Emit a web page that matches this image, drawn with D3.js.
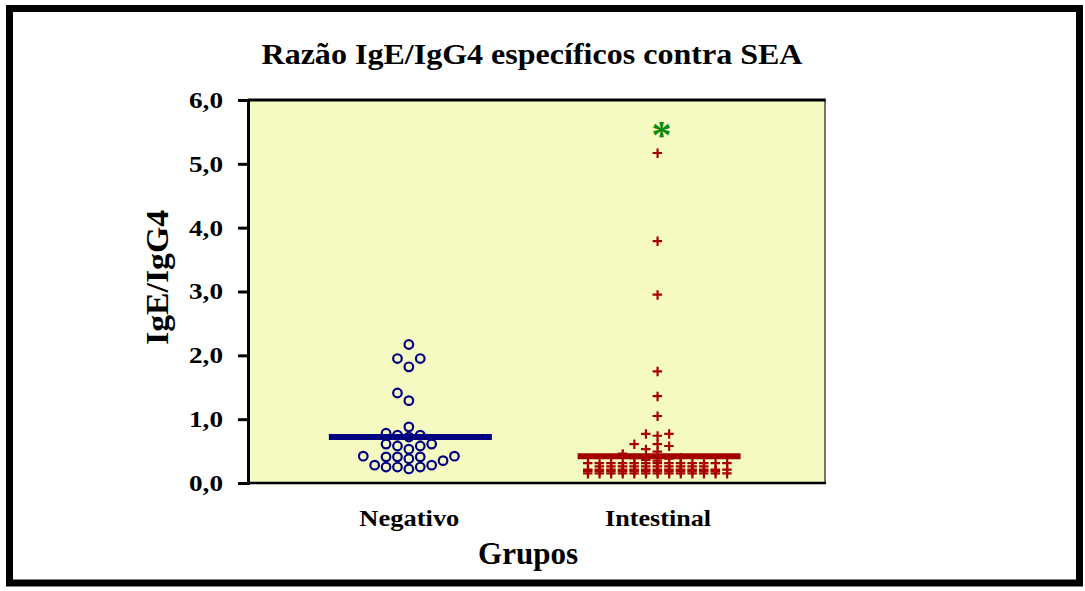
<!DOCTYPE html>
<html>
<head>
<meta charset="utf-8">
<script src="https://cdn.jsdelivr.net/npm/d3@7"></script>
<style>
  html, body { margin: 0; padding: 0; background: #ffffff; }
  svg { display: block; }
  text { font-family: "Liberation Serif", "Times New Roman", serif; font-weight: bold; }
</style>
</head>
<body>
<div id="chart"></div>
<script>
// ---------------- data ----------------
const groups = ["Negativo", "Intestinal"];
const negativoValues = [
  2.17, 1.95, 1.95, 1.82, 1.41, 1.29, 0.88, 0.75, 0.72, 0.78, 0.75,
  0.61, 0.58, 0.58, 0.61, 0.53, 0.42, 0.41, 0.41, 0.41, 0.42,
  0.35, 0.38, 0.28, 0.25, 0.22, 0.25, 0.25, 0.28
];
const intestinalValues = [
  5.17, 3.79, 2.95, 1.75, 1.36, 1.05, 0.77, 0.74, 0.77, 0.61, 0.53, 0.58, 0.61, 0.49, 0.46,
  0.40, 0.39, 0.38, 0.36, 0.35,
  0.31, 0.31, 0.31, 0.31, 0.31, 0.31, 0.31, 0.31, 0.31, 0.31, 0.31, 0.31, 0.31,
  0.26, 0.26, 0.26, 0.26, 0.26, 0.26, 0.26, 0.26, 0.26, 0.26,
  0.21, 0.21, 0.21, 0.21, 0.21, 0.21, 0.21, 0.21, 0.21, 0.21, 0.21, 0.21, 0.21,
  0.19, 0.19, 0.19, 0.19, 0.19, 0.19, 0.19, 0.19, 0.19, 0.19, 0.19, 0.19,
  0.15, 0.15, 0.15, 0.15, 0.15, 0.15, 0.15, 0.15, 0.15, 0.15, 0.15, 0.15, 0.15
];
const groupMeans = [0.72, 0.42];
const yTicks = [0, 1, 2, 3, 4, 5, 6];
const starGroup = "Intestinal";
const starValue = 5.55;
const titleText = "Razão IgE/IgG4 específicos contra SEA";
const yTitle = "IgE/IgG4";
const xTitle = "Grupos";

// ---------------- layout ----------------
const W = 1085, H = 591;
const plot = { left: 248, right: 825, top: 100, bottom: 483 };
const serif = '"Liberation Serif", "Times New Roman", serif';

const svg = d3.select("#chart").append("svg").attr("width", W).attr("height", H);

// outer frame
svg.append("rect")
  .attr("x", 9.5).attr("y", 8.5)
  .attr("width", 1070).attr("height", 574.5)
  .attr("fill", "#ffffff").attr("stroke", "#000").attr("stroke-width", 7);

const y = d3.scaleLinear().domain([0, 6]).range([plot.bottom, plot.top]);
const x = d3.scalePoint().domain(groups).range([plot.left, plot.right]).padding(0.66).align(0.49);

// plot background
svg.append("rect")
  .attr("x", plot.left).attr("y", plot.top)
  .attr("width", plot.right - plot.left).attr("height", plot.bottom - plot.top)
  .attr("fill", "#f4fac1");

// right border (thin)
svg.append("line")
  .attr("x1", plot.right).attr("x2", plot.right)
  .attr("y1", plot.top).attr("y2", plot.bottom)
  .attr("stroke", "#4a4a3a").attr("stroke-width", 1.5);

// top border
svg.append("line")
  .attr("x1", plot.left).attr("x2", plot.right + 0.75)
  .attr("y1", plot.top).attr("y2", plot.top)
  .attr("stroke", "#000").attr("stroke-width", 3);

// y axis
const yAxis = d3.axisLeft(y).tickValues(yTicks).tickSize(10).tickPadding(15)
  .tickFormat(d => d3.format(".1f")(d).replace(".", ","));
const gy = svg.append("g").attr("transform", `translate(${plot.left},0)`).call(yAxis);
gy.select(".domain").attr("stroke", "#000").attr("stroke-width", 3);
gy.selectAll(".tick line").attr("stroke", "#000").attr("stroke-width", 3);
gy.selectAll(".tick text")
  .style("font-family", serif).style("font-weight", "bold").style("font-size", "23px")
  .style("fill", "#000")
  .attr("textLength", 34).attr("lengthAdjust", "spacingAndGlyphs");

// x axis
const xAxis = d3.axisBottom(x).tickSize(0).tickPadding(26);
const gx = svg.append("g").attr("transform", `translate(0,${plot.bottom})`).call(xAxis);
gx.select(".domain").attr("stroke", "#000").attr("stroke-width", 2.5)
  .attr("d", `M${plot.left},0H${plot.right + 1}`);
const xLabelWidths = { "Negativo": 100, "Intestinal": 106 };
gx.selectAll(".tick text")
  .style("font-family", serif).style("font-weight", "bold").style("font-size", "24px")
  .style("fill", "#000")
  .attr("textLength", d => xLabelWidths[d]).attr("lengthAdjust", "spacingAndGlyphs");

// ---------------- swarm layout ----------------
// dense low-value points may overlap vertically; isolated points keep a wider gap
function swarm(values, cx, step, gapFor) {
  const placed = [];
  const sorted = values.slice().sort((a, b) => a - b);
  for (const v of sorted) {
    const py = y(v);
    const g = gapFor(v);
    for (let k = 0; k < 200; k++) {
      const col = k === 0 ? 0 : (k % 2 ? -(k + 1) / 2 : k / 2);
      const clash = placed.some(p => p.col === col && Math.abs(p.y - py) < Math.min(g, p.gap));
      if (!clash) { placed.push({ v, y: py, col, gap: g, x: cx + col * step }); break; }
    }
  }
  return placed;
}

const negPts = swarm(negativoValues, x("Negativo"), 11.4, () => 9);
const intPts = swarm(intestinalValues, x("Intestinal"), 11.6, v => (v > 0.33 ? 7.5 : 1.2));

const plotG = svg.append("g");

// mean lines
const meanColors = ["#000080", "#a00000"];
groups.forEach((g, i) => {
  plotG.append("line")
    .attr("x1", x(g) - 80).attr("x2", x(g) + 83)
    .attr("y1", y(groupMeans[i])).attr("y2", y(groupMeans[i]))
    .attr("stroke", meanColors[i]).attr("stroke-width", 6);
});

// negativo circles
plotG.selectAll("circle.neg").data(negPts).join("circle")
  .attr("class", "neg")
  .attr("cx", d => d.x).attr("cy", d => d.y).attr("r", 4.3)
  .attr("fill", "none").attr("stroke", "#000080").attr("stroke-width", 2.2);

// intestinal plus markers
plotG.selectAll("path.int").data(intPts).join("path")
  .attr("class", "int")
  .attr("transform", d => `translate(${d.x},${d.y})`)
  .attr("d", "M-5,0H4.5M0,-4.5V5")
  .attr("fill", "none").attr("stroke", "#a80000").attr("stroke-width", 2.2);

// green asterisk
svg.append("text")
  .attr("x", x(starGroup) + 4).attr("y", y(starValue) + 19)
  .attr("text-anchor", "middle")
  .style("font-family", serif).style("font-size", "40px").style("font-weight", "bold")
  .style("fill", "#0a8a0a")
  .text("*");

// titles
svg.append("text")
  .attr("x", 532).attr("y", 64)
  .attr("text-anchor", "middle")
  .style("font-size", "29px").style("fill", "#000")
  .attr("textLength", 541).attr("lengthAdjust", "spacingAndGlyphs")
  .text(titleText);

svg.append("text")
  .attr("transform", `translate(168,${(plot.top + plot.bottom) / 2 - 14}) rotate(-90)`)
  .attr("text-anchor", "middle")
  .style("font-size", "31px").style("fill", "#000")
  .attr("textLength", 135).attr("lengthAdjust", "spacingAndGlyphs")
  .text(yTitle);

svg.append("text")
  .attr("x", 528).attr("y", 564)
  .attr("text-anchor", "middle")
  .style("font-size", "31px").style("fill", "#000")
  .attr("textLength", 100).attr("lengthAdjust", "spacingAndGlyphs")
  .text(xTitle);
</script>
</body>
</html>
